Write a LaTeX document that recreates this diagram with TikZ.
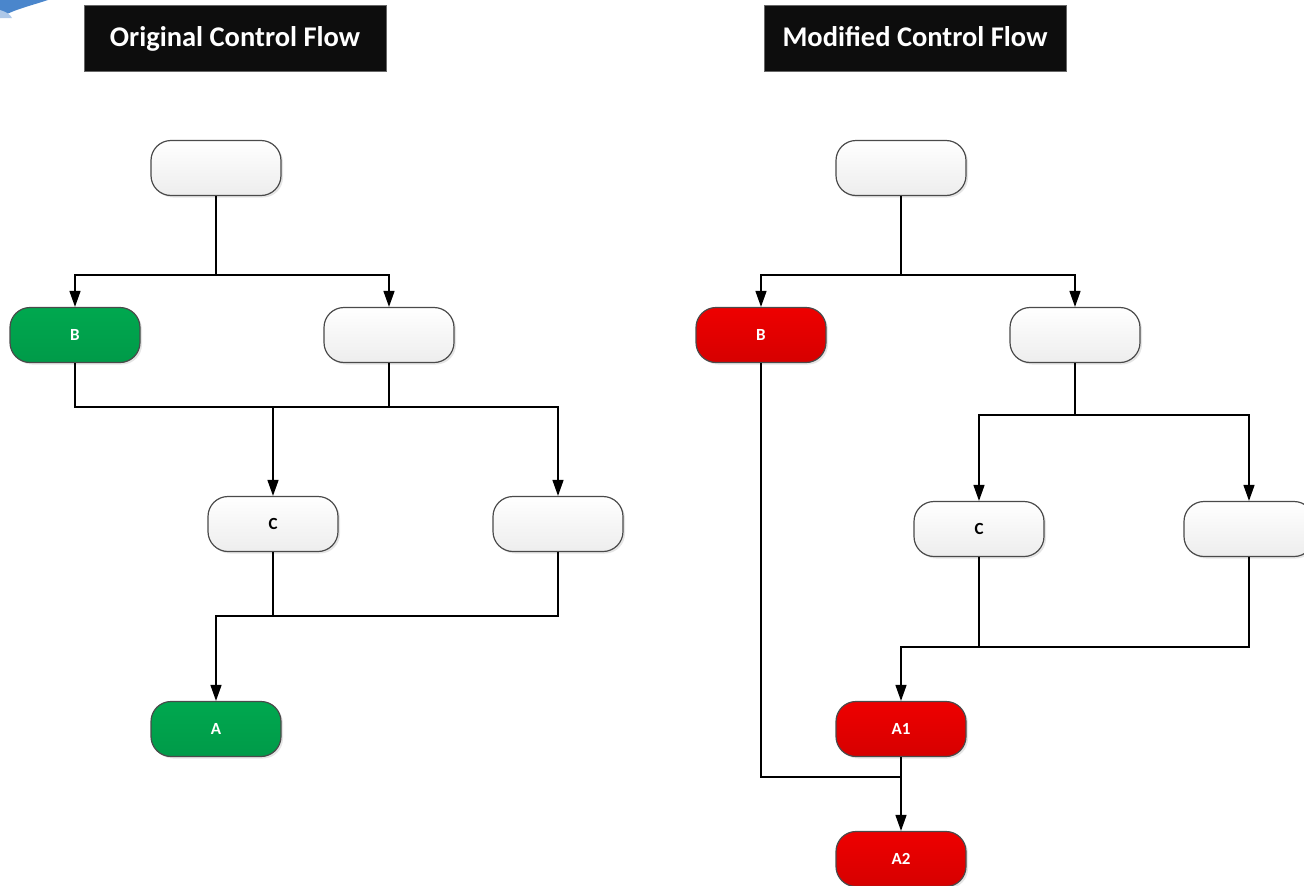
\documentclass[tikz,border=0pt]{standalone}
\usepackage{fontspec}
\setmainfont{Carlito}
\usetikzlibrary{arrows.meta,shadows}
\definecolor{grn}{HTML}{00A84F}
\definecolor{rd}{HTML}{EE0000}
\definecolor{edge}{HTML}{4A4A4A}
\definecolor{swoosh}{HTML}{4A86CC}
\tikzset{
  box/.style={rounded corners=20pt, minimum width=130pt, minimum height=55pt, draw=edge, line width=1.2pt,
    top color=white, bottom color=black!7, inner sep=0pt, font=\fontsize{17}{17}\selectfont\bfseries,
    drop shadow={shadow xshift=2pt, shadow yshift=-2pt, fill=black!25, opacity=0.4}},
  gbox/.style={box, top color=grn, bottom color=grn!92!black, text=white},
  rbox/.style={box, top color=rd, bottom color=rd!90!black, text=white},
  title/.style={fill=black!95, draw=black!60, text=white, minimum width=302pt, minimum height=66pt,
    font=\fontsize{28.5}{28.5}\selectfont\bfseries, inner sep=0pt, text height=22pt, text depth=6pt},
  ln/.style={line width=1.4pt, black},
  arr/.style={ln, -{Triangle[length=16pt,width=11pt]}}
}
\begin{document}
\begin{tikzpicture}[x=1pt,y=-1pt]
\useasboundingbox (0,0) rectangle (1304,886);
% swoosh
\fill[swoosh] (0,0) -- (48,0) .. controls (30,6) and (12,10) .. (0,18) -- cycle;
\fill[swoosh!45] (0,10) .. controls (6,12) and (10,14) .. (12,18) -- (0,18) -- cycle;
% titles
\node[title] (t1) at (235,38) {Original Control Flow};
\node[title] (t2) at (915,38) {Modified Control Flow};
% left nodes
\node[box] (l0) at (216,168) {};
\node[gbox] (lB) at (75,335) {B};
\node[box] (l2) at (389,335) {};
\node[box] (lC) at (273,524) {C};
\node[box] (l3) at (558,524) {};
\node[gbox] (lA) at (216,729) {A};
% right nodes
\node[box] (r0) at (901,168) {};
\node[rbox] (rB) at (761,335) {B};
\node[box] (r2) at (1075,335) {};
\node[box] (rC) at (979,529) {C};
\node[box] (r3) at (1249,529) {};
\node[rbox] (rA1) at (901,729) {A1};
\node[rbox] (rA2) at (901,859) {A2};
% left connectors
\coordinate (lj1) at (216,275);
\draw[ln] (l0.south) -- (lj1);
\draw[arr] (lj1) -| (lB.north);
\draw[arr] (lj1) -| (l2.north);
\coordinate (lj2) at (273,407);
\draw[ln] (lB.south) |- (lj2);
\draw[ln] (l2.south) |- (lj2);
\draw[arr] (lj2) -- (lC.north);
\draw[arr] (l2.south) |- (558,407) -- (l3.north);
\coordinate (lj3) at (273,616);
\draw[ln] (lC.south) -- (lj3);
\draw[ln] (l3.south) |- (lj3);
\draw[arr] (lj3) -| (lA.north);
% right connectors
\coordinate (rj1) at (901,275);
\draw[ln] (r0.south) -- (rj1);
\draw[arr] (rj1) -| (rB.north);
\draw[arr] (rj1) -| (r2.north);
\coordinate (rj2) at (1075,415);
\draw[ln] (r2.south) -- (rj2);
\draw[arr] (rj2) -| (rC.north);
\draw[arr] (rj2) -| (r3.north);
\coordinate (rj3) at (979,647);
\draw[ln] (rC.south) -- (rj3);
\draw[ln] (r3.south) |- (rj3);
\draw[arr] (rj3) -| (rA1.north);
\coordinate (rj4) at (901,777);
\draw[ln] (rB.south) |- (rj4);
\draw[arr] (rA1.south) -- (rA2.north);
\end{tikzpicture}
\end{document}
